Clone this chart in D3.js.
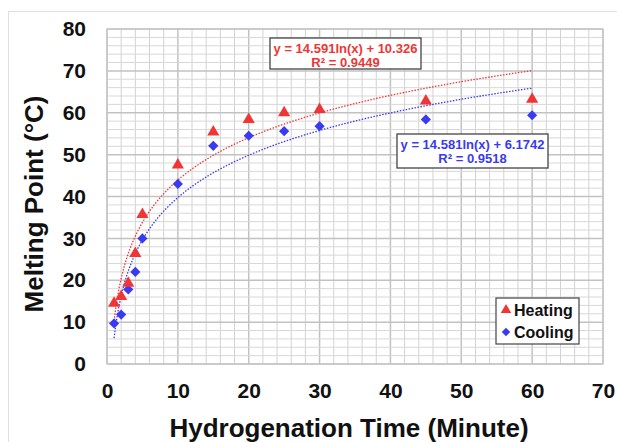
<!DOCTYPE html>
<html>
<head>
<meta charset="utf-8">
<script src="https://cdn.jsdelivr.net/npm/d3@7"></script>
<style>
  body { margin: 0; background: #fff; }
  svg { font-family: "Liberation Sans", Arial, sans-serif; font-weight: bold; }
</style>
</head>
<body>
<script>
// hydrogenation time (minute)
var times = [1, 2, 3, 4, 5, 10, 15, 20, 25, 30, 45, 60];
var heating = [14.5, 16.1, 19.3, 26.4, 35.7, 47.5, 55.4, 58.4, 60.0, 60.8, 62.8, 63.2];
var cooling = [9.7, 11.8, 17.8, 22.0, 30.0, 43.0, 52.1, 54.5, 55.6, 56.8, 58.4, 59.4];
var xTicks = [0, 10, 20, 30, 40, 50, 60, 70];
var yTicks = [0, 10, 20, 30, 40, 50, 60, 70, 80];
// log trendline coefficients as printed on the chart
var heatFit = {a: 14.591, b: 10.326, label: "y = 14.591ln(x) + 10.326", r2: "R² = 0.9449"};
var coolFit = {a: 14.581, b: 6.1742, label: "y = 14.581ln(x) + 6.1742", r2: "R² = 0.9518"};

var width = 617, height = 442;
var margin = {top: 29, right: 14, bottom: 78, left: 107};

var red = "#f03535", blue = "#3a3af2";

var svg = d3.select("body")
    .append("svg")
    .attr("width", width)
    .attr("height", height);

// outer frame
svg.append("rect")
    .attr("x", 8.5).attr("y", 11.5)
    .attr("width", width).attr("height", height)
    .attr("fill", "none")
    .attr("stroke", "#e0e0e0");

var x = d3.scaleLinear().domain([0, 70]).range([margin.left, width - margin.right]);
var y = d3.scaleLinear().domain([0, 80]).range([height - margin.bottom, margin.top]);

// grid: minor every 2, major every 10
var grid = svg.append("g");
grid.selectAll(".vx")
    .data(d3.range(0, 71, 2))
    .join("line")
    .attr("x1", d => x(d)).attr("x2", d => x(d))
    .attr("y1", y(0)).attr("y2", y(80))
    .attr("stroke", d => d % 10 == 0 ? "#c2c2c2" : "#d2d2d2")
    .attr("stroke-width", d => d % 10 == 0 ? 1.5 : 1);
grid.selectAll(".hy")
    .data(d3.range(0, 81, 2))
    .join("line")
    .attr("x1", x(0)).attr("x2", x(70))
    .attr("y1", d => y(d)).attr("y2", d => y(d))
    .attr("stroke", d => d % 10 == 0 ? "#c2c2c2" : "#d8d8d8")
    .attr("stroke-width", d => d % 10 == 0 ? 1.5 : 1);

svg.append("rect")
    .attr("x", x(0)).attr("y", y(80))
    .attr("width", x(70) - x(0)).attr("height", y(0) - y(80))
    .attr("fill", "none").attr("stroke", "#c4c4c4");

// axes (labels only)
var xAxis = svg.append("g")
    .attr("transform", `translate(0,${y(0)})`)
    .call(d3.axisBottom(x).tickValues(xTicks).tickSize(0).tickPadding(19));
var yAxis = svg.append("g")
    .attr("transform", `translate(${x(0)},0)`)
    .call(d3.axisLeft(y).tickValues(yTicks).tickSize(0).tickPadding(21));
[xAxis, yAxis].forEach(function(g) {
    g.select(".domain").remove();
    g.selectAll("text")
        .attr("font-size", 21)
        .attr("font-family", "Liberation Sans, Arial, sans-serif")
        .attr("font-weight", "bold")
        .attr("fill", "#111");
});

// trendlines
var fitX = d3.range(1, 60.01, 0.25);
function fitLine(f) {
    return d3.line()
        .x(d => x(d))
        .y(d => y(f.a * Math.log(d) + f.b))(fitX);
}
svg.append("path").attr("d", fitLine(coolFit))
    .attr("fill", "none").attr("stroke", blue).attr("stroke-width", 1.3)
    .attr("stroke-dasharray", "1.5,1.5");
svg.append("path").attr("d", fitLine(heatFit))
    .attr("fill", "none").attr("stroke", red).attr("stroke-width", 1.3)
    .attr("stroke-dasharray", "1.5,1.5");

// markers
var tri = d3.symbol().type(d3.symbolTriangle).size(64);
var dia = d3.symbol().type(d3.symbolDiamond2).size(66);
svg.append("g").selectAll("path")
    .data(times.map((t, i) => [t, cooling[i]]))
    .join("path")
    .attr("d", dia)
    .attr("transform", d => `translate(${x(d[0])},${y(d[1])})`)
    .attr("fill", blue);
svg.append("g").selectAll("path")
    .data(times.map((t, i) => [t, heating[i]]))
    .join("path")
    .attr("d", tri)
    .attr("transform", d => `translate(${x(d[0])},${y(d[1])})`)
    .attr("fill", red);

// equation boxes
function eqBox(f, bx, by, bw, bh, col) {
    var g = svg.append("g");
    g.append("rect")
        .attr("x", bx).attr("y", by).attr("width", bw).attr("height", bh)
        .attr("fill", "#fff").attr("stroke", "#444").attr("stroke-width", 1.3);
    g.append("text").attr("x", bx + bw / 2).attr("y", by + 15)
        .attr("text-anchor", "middle").attr("font-size", 13).attr("fill", col)
        .text(f.label);
    g.append("text").attr("x", bx + bw / 2).attr("y", by + 29)
        .attr("text-anchor", "middle").attr("font-size", 13).attr("fill", col)
        .text(f.r2);
}
eqBox(heatFit, 270, 38, 151, 31, red);
eqBox(coolFit, 397, 134, 151, 34, blue);

// legend
var lg = svg.append("g");
lg.append("rect")
    .attr("x", 496).attr("y", 298).attr("width", 83).attr("height", 46)
    .attr("fill", "#fff").attr("stroke", "#444").attr("stroke-width", 1.2);
lg.append("path").attr("d", d3.symbol().type(d3.symbolTriangle).size(48))
    .attr("transform", "translate(506,310)").attr("fill", red);
lg.append("path").attr("d", d3.symbol().type(d3.symbolDiamond2).size(46))
    .attr("transform", "translate(506,332)").attr("fill", blue);
lg.append("text").attr("x", 514).attr("y", 315.5).attr("font-size", 16).attr("fill", "#111").text("Heating");
lg.append("text").attr("x", 514).attr("y", 338).attr("font-size", 16).attr("fill", "#111").text("Cooling");

// axis titles
svg.append("text")
    .attr("x", 349).attr("y", 437)
    .attr("text-anchor", "middle")
    .attr("font-size", 26).attr("fill", "#111")
    .text("Hydrogenation Time (Minute)");
svg.append("text")
    .attr("transform", "translate(43,204) rotate(-90)")
    .attr("text-anchor", "middle")
    .attr("font-size", 26).attr("fill", "#111")
    .text("Melting Point (°C)");
</script>
</body>
</html>
